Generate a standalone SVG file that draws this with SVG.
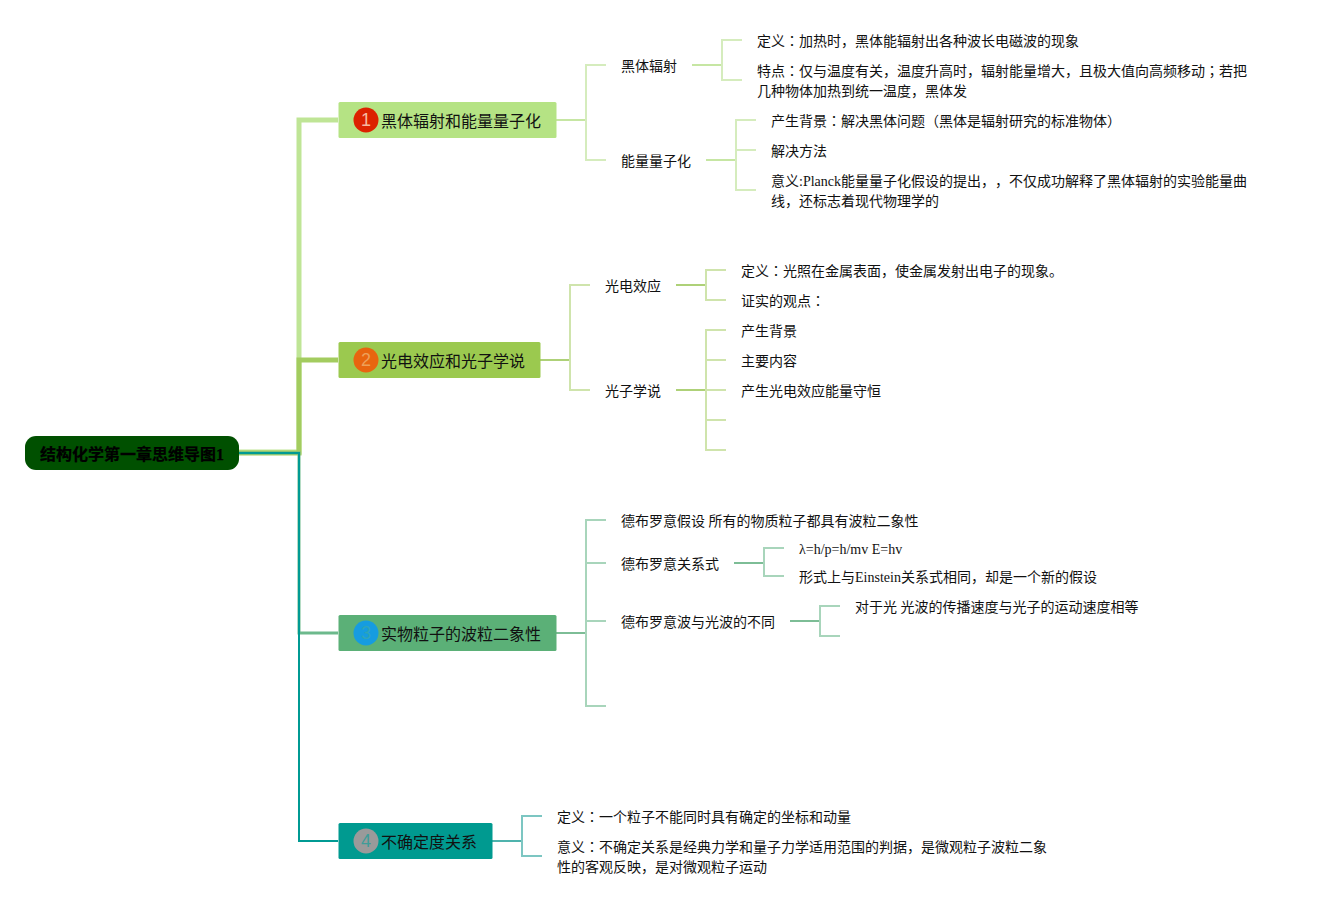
<svg xmlns="http://www.w3.org/2000/svg" width="1331" height="906" viewBox="0 0 1331 906">
<style>
text{font-family:"Liberation Serif","Noto Sans CJK SC",serif;fill:#111;text-spacing-trim:space-all}
.l{font-size:14px}
.t{font-size:16px}
.c{font-family:"Liberation Serif","Noto Sans CJK TC",serif}
.r{font-size:16px;font-weight:bold;fill:#000;stroke:#000;stroke-width:.25}
.n{font-family:"Liberation Sans",sans-serif;font-size:18px;text-anchor:middle}
path{fill:none}
.a1{stroke:#d5ecbd;stroke-width:2}
.a1b{stroke:#c6e6a3;stroke-width:2}
.a2{stroke:#cfe4ac;stroke-width:2}
.a2b{stroke:#aed178;stroke-width:2}
.a3{stroke:#a8d5bb;stroke-width:2}
.a3b{stroke:#7dbd96;stroke-width:2}
.a4{stroke:#7cc6c2;stroke-width:2}
.a4b{stroke:#4fb3ad;stroke-width:2}
</style>
<g id="connectors">
<path d="M239 452H299V120H338" stroke="#bfe596" stroke-width="5"/>
<path d="M239 453H299V360H338" stroke="#a3cc5f" stroke-width="5"/>
<path d="M239 453H299V633H338" stroke="#6cb98c" stroke-width="3"/>
<path d="M239 453H299V841H338" stroke="#009a93" stroke-width="2"/>
<path class="a1b" d="M556 120H586"/>
<path class="a1" d="M606 65H586V160H606"/>
<path class="a1b" d="M692 65H722"/>
<path class="a1" d="M742 40H722V80H742"/>
<path class="a1b" d="M706 160H736"/>
<path class="a1" d="M756 120H736V190H756M736 150H756"/>
<path class="a2b" d="M540 360H570"/>
<path class="a2" d="M590 285H570V390H590"/>
<path class="a2b" d="M676 285H706"/>
<path class="a2" d="M726 270H706V300H726"/>
<path class="a2b" d="M676 390H706"/>
<path class="a2" d="M726 330H706V450H726M706 360H726M706 390H726M706 420H726"/>
<path class="a3b" d="M556 633H586"/>
<path class="a3" d="M606 520H586V706H606M586 563H606M586 621H606"/>
<path class="a3b" d="M734 563H764"/>
<path class="a3" d="M784 548H764V576H784"/>
<path class="a3b" d="M790 621H820"/>
<path class="a3" d="M840 606H820V636H840"/>
<path class="a4b" d="M492 841H522"/>
<path class="a4" d="M542 816H522V856H542"/>
</g>
<g id="root"><rect x="25" y="436" width="214" height="34" rx="11" fill="#005000"/><text class="r" x="40" y="460">结构化学第一章思维导图1</text></g>
<g id="t1"><rect x="338.5" y="102" width="218" height="36" rx="1.5" fill="#b5e384"/><circle cx="366" cy="120" r="12.5" fill="#dc2100"/><text class="n" x="366" y="126" style="fill:#f6b9a0">1</text><text class="t" x="381" y="127">黑体辐射和能量量子化</text></g>
<g id="t2"><rect x="338.5" y="342" width="202" height="36" rx="1.5" fill="#9bc94f"/><circle cx="366" cy="360" r="12.5" fill="#e8650f"/><text class="n" x="366" y="366" style="fill:#eda05a">2</text><text class="t" x="381" y="367">光电效应和光子学说</text></g>
<g id="t3"><rect x="338.5" y="615" width="218" height="36" rx="1.5" fill="#5bb077"/><circle cx="366" cy="633" r="12.5" fill="#169ce0"/><text class="n" x="366" y="639" style="fill:#2ea5b8">3</text><text class="t" x="381" y="640">实物粒子的波粒二象性</text></g>
<g id="t4"><rect x="338.5" y="823" width="154" height="36" rx="1.5" fill="#009a90"/><circle cx="366" cy="841" r="12.5" fill="#9a9a9a"/><text class="n" x="366" y="847" style="fill:#3f9c98">4</text><text class="t" x="381" y="848">不确定度关系</text></g>
<g id="n1"><text class="l" x="621" y="71">黑体辐射</text></g>
<g id="n2"><text class="l" x="757" y="46">定义<tspan class="c">：</tspan>加热时，黑体能辐射出各种波长电磁波的现象</text></g>
<g id="n3"><text class="l" x="757" y="76">特点<tspan class="c">：</tspan>仅与温度有关，温度升高时，辐射能量增大，且极大值向高频移动<tspan class="c">；</tspan>若把</text><text class="l" x="757" y="96">几种物体加热到统一温度，黑体发</text></g>
<g id="n4"><text class="l" x="621" y="166">能量量子化</text></g>
<g id="n5"><text class="l" x="771" y="126">产生背景<tspan class="c">：</tspan>解决黑体问题（黑体是辐射研究的标准物体）</text></g>
<g id="n6"><text class="l" x="771" y="156">解决方法</text></g>
<g id="n7"><text class="l" x="771" y="186">意义:Planck能量量子化假设的提出，，不仅成功解释了黑体辐射的实验能量曲</text><text class="l" x="771" y="206">线，还标志着现代物理学的</text></g>
<g id="n8"><text class="l" x="605" y="291">光电效应</text></g>
<g id="n9"><text class="l" x="741" y="276">定义<tspan class="c">：</tspan>光照在金属表面，使金属发射出电子的现象。</text></g>
<g id="n10"><text class="l" x="741" y="306">证实的观点<tspan class="c">：</tspan></text></g>
<g id="n11"><text class="l" x="605" y="396">光子学说</text></g>
<g id="n12"><text class="l" x="741" y="336">产生背景</text></g>
<g id="n13"><text class="l" x="741" y="366">主要内容</text></g>
<g id="n14"><text class="l" x="741" y="396">产生光电效应能量守恒</text></g>
<g id="n15"><text class="l" x="621" y="526">德布罗意假设 所有的物质粒子都具有波粒二象性</text></g>
<g id="n16"><text class="l" x="621" y="569">德布罗意关系式</text></g>
<g id="n17"><text class="l" x="799" y="554">λ=h/p=h/mv E=hv</text></g>
<g id="n18"><text class="l" x="799" y="582">形式上与Einstein关系式相同，却是一个新的假设</text></g>
<g id="n19"><text class="l" x="621" y="627">德布罗意波与光波的不同</text></g>
<g id="n20"><text class="l" x="855" y="612">对于光 光波的传播速度与光子的运动速度相等</text></g>
<g id="n21"><text class="l" x="557" y="822">定义<tspan class="c">：</tspan>一个粒子不能同时具有确定的坐标和动量</text></g>
<g id="n22"><text class="l" x="557" y="852">意义<tspan class="c">：</tspan>不确定关系是经典力学和量子力学适用范围的判据，是微观粒子波粒二象</text><text class="l" x="557" y="872">性的客观反映，是对微观粒子运动</text></g>
</svg>
